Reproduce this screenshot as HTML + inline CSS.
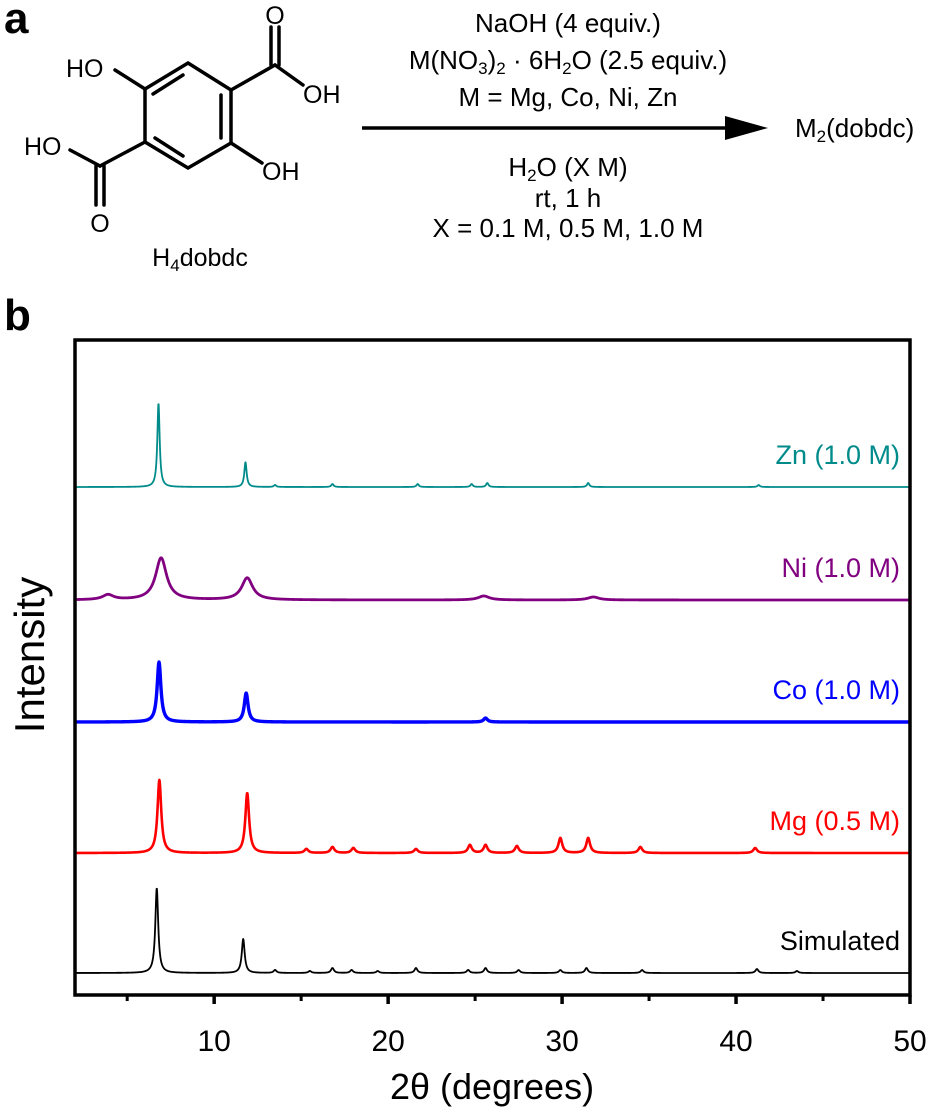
<!DOCTYPE html>
<html><head><meta charset="utf-8">
<style>
body{margin:0;background:#fff;}
svg{display:block;font-family:"Liberation Sans",Arial,sans-serif;}
</style></head>
<body>
<svg id="fig" width="936" height="1112" viewBox="0 0 936 1112" xmlns="http://www.w3.org/2000/svg">
  <g>
    <text x="4" y="33" font-size="44" font-weight="bold">a</text>
    <g stroke="#000" stroke-width="3.5" fill="none" stroke-linecap="round">
      <polygon points="188,63 231,90 231,143 188,168 145,142 145,89"/>
      <line x1="183" y1="75" x2="153" y2="94"/>
      <line x1="221" y1="95" x2="221" y2="138"/>
      <line x1="155" y1="138" x2="183" y2="156"/>
      <line x1="145" y1="89" x2="115" y2="70"/>
      <line x1="231" y1="90" x2="275" y2="65"/>
      <line x1="271" y1="65" x2="271" y2="27"/>
      <line x1="279" y1="65" x2="279" y2="27"/>
      <line x1="275" y1="65" x2="303" y2="85"/>
      <line x1="145" y1="142" x2="100" y2="166"/>
      <line x1="100" y1="166" x2="70" y2="150"/>
      <line x1="96" y1="166" x2="96" y2="205"/>
      <line x1="104" y1="166" x2="104" y2="205"/>
      <line x1="231" y1="143" x2="262" y2="163"/>
    </g>
    <g font-size="25" fill="#000">
      <text x="66" y="77">HO</text>
      <text x="275" y="24" text-anchor="middle">O</text>
      <text x="303" y="103">OH</text>
      <text x="24" y="155">HO</text>
      <text x="100" y="232" text-anchor="middle">O</text>
      <text x="262" y="180">OH</text>
      <text x="200" y="266" text-anchor="middle">H<tspan font-size="17" dy="5">4</tspan><tspan dy="-5">dobdc</tspan></text>
    </g>
    <g>
      <line x1="362" y1="128" x2="735" y2="128" stroke="#000" stroke-width="3.5"/>
      <polygon points="725,116 768,128 725,140" fill="#000"/>
    </g>
    <g font-size="26" text-anchor="middle" fill="#000">
      <text x="568" y="32">NaOH (4 equiv.)</text>
      <text x="568" y="69">M(NO<tspan font-size="17" dy="5">3</tspan><tspan dy="-5">)</tspan><tspan font-size="17" dy="5">2</tspan><tspan dy="-5"> · 6H</tspan><tspan font-size="17" dy="5">2</tspan><tspan dy="-5">O (2.5 equiv.)</tspan></text>
      <text x="568" y="106">M = Mg, Co, Ni, Zn</text>
      <text x="568" y="176">H<tspan font-size="17" dy="5">2</tspan><tspan dy="-5">O (X M)</tspan></text>
      <text x="568" y="207">rt, 1 h</text>
      <text x="568" y="237">X = 0.1 M, 0.5 M, 1.0 M</text>
    </g>
    <text x="795" y="137" font-size="26">M<tspan font-size="17" dy="5">2</tspan><tspan dy="-5">(dobdc)</tspan></text>
  </g>
  <text x="4" y="330" font-size="44" font-weight="bold">b</text>
  <g id="chart"></g>
</svg>
<script>
const xTickValues = [10, 20, 30, 40, 50];
const xMinorTicks = [5, 15, 25, 35, 45];
const seriesNames = ["Simulated", "Mg (0.5 M)", "Co (1.0 M)", "Ni (1.0 M)", "Zn (1.0 M)"];
const seriesColors = ["#000000", "#ff0000", "#0000ff", "#800080", "#008b8b"];
const seriesOffsets = [22, 142, 273, 395, 508];
const simPeakPos = [6.7, 11.67, 13.5, 15.5, 16.8, 17.9, 19.4, 21.6, 24.6, 25.6, 27.5, 29.9, 31.4, 34.6, 41.2, 43.5];
const simPeakHeight = [85, 34, 3, 2, 5, 3, 2, 5, 3, 5, 3, 3, 5, 3, 4, 2];
const mgPeakPos = [6.85, 11.9, 15.3, 16.8, 18.0, 21.6, 24.7, 25.6, 27.4, 29.9, 31.5, 34.5, 41.1];
const mgPeakHeight = [73, 60, 4, 6, 5, 4, 8, 8, 7, 15, 15, 6, 5];
const coPeakPos = [6.83, 11.84, 25.6];
const coPeakHeight = [60, 29, 4];
const niPeakPos = [3.9, 6.95, 11.9, 25.5, 31.8];
const niPeakHeight = [5, 42, 22, 4, 3];
const znPeakPos = [6.8, 11.8, 13.5, 16.8, 21.7, 24.8, 25.7, 31.5, 41.3];
const znPeakHeight = [84, 25, 2, 3, 3, 3, 4, 4, 2];
const peakWidths = [0.1, 0.13, 0.13, 0.38, 0.08];
const strokeWidths = [1.8, 2.6, 3.4, 2.8, 1.8];

const X0 = 75, X1 = 910, Y0 = 995, Y1 = 340;
const xMin = 2, xMax = 50;
const yMaxVal = 655;
function xScale(v){ return X0 + (v - xMin) / (xMax - xMin) * (X1 - X0); }
function yScale(v){ return Y0 - v / yMaxVal * (Y0 - Y1); }

const NS = "http://www.w3.org/2000/svg";
const chart = document.getElementById("chart");
function mk(tag, attrs){ const e = document.createElementNS(NS, tag); for (const k in attrs) e.setAttribute(k, attrs[k]); return e; }

const allPos = [simPeakPos, mgPeakPos, coPeakPos, niPeakPos, znPeakPos];
const allHeight = [simPeakHeight, mgPeakHeight, coPeakHeight, niPeakHeight, znPeakHeight];

for (let s = 0; s < seriesNames.length; s++) {
  const pos = allPos[s], hts = allHeight[s], w = peakWidths[s];
  let d = "";
  for (let t = xMin + 0.05; t <= xMax; t += 0.02) {
    let v = seriesOffsets[s];
    for (let k = 0; k < pos.length; k++) {
      const z = (t - pos[k]) / w;
      v += hts[k] / (1 + z * z);
    }
    d += (d ? "L" : "M") + xScale(t).toFixed(2) + "," + yScale(v).toFixed(2);
  }
  const p = mk("path", {d: d, fill: "none", stroke: seriesColors[s], "stroke-width": strokeWidths[s], "stroke-linejoin": "round"});
  
  
  chart.appendChild(p);
  const lab = mk("text", {x: 900, y: yScale(seriesOffsets[s]) - 23, "text-anchor": "end", "font-size": "27", fill: seriesColors[s]});
  lab.textContent = seriesNames[s];
  
  
  chart.appendChild(lab);
}

const frame = mk("rect", {x: X0, y: Y1, width: X1 - X0, height: Y0 - Y1, fill: "none", stroke: "#000", "stroke-width": 3.5});


chart.appendChild(frame);

for (const v of xTickValues) {
  const t = mk("line", {x1: xScale(v), x2: xScale(v), y1: Y0, y2: Y0 + 9, stroke: "#000", "stroke-width": 3.5});
  
  
  chart.appendChild(t);
  const l = mk("text", {x: xScale(v), y: 1051, "text-anchor": "middle", "font-size": "30"});
  l.textContent = v;
  
  
  chart.appendChild(l);
}
for (const v of xMinorTicks) {
  const t = mk("line", {x1: xScale(v), x2: xScale(v), y1: Y0, y2: Y0 + 6, stroke: "#000", "stroke-width": 3});
  
  
  chart.appendChild(t);
}
const xt = mk("text", {x: 492, y: 1099, "text-anchor": "middle", "font-size": "36"});
xt.textContent = "2θ (degrees)";


chart.appendChild(xt);
const yt = mk("text", {x: 0, y: 0, "text-anchor": "middle", "font-size": "42", transform: "translate(44,655) rotate(-90)"});
yt.textContent = "Intensity";


chart.appendChild(yt);
</script>
</body></html>
